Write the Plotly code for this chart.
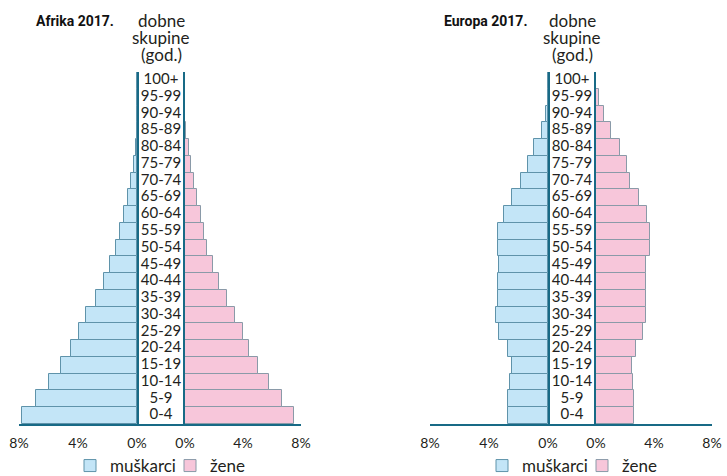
import plotly.graph_objects as go

ages = ["0-4", "5-9", "10-14", "15-19", "20-24", "25-29", "30-34", "35-39", "40-44",
        "45-49", "50-54", "55-59", "60-64", "65-69", "70-74", "75-79", "80-84",
        "85-89", "90-94", "95-99", "100+"]

africa_male = [7.78, 6.83, 5.94, 5.15, 4.47, 3.95, 3.44, 2.78, 2.26, 1.81, 1.45, 1.18,
               0.90, 0.63, 0.41, 0.23, 0.10, 0.03, 0.01, 0.0, 0.0]
africa_female = [7.54, 6.69, 5.82, 5.01, 4.44, 4.02, 3.47, 2.90, 2.34, 1.91, 1.54, 1.33,
                 1.12, 0.85, 0.60, 0.39, 0.25, 0.07, 0.02, 0.0, 0.0]
europe_male = [2.70, 2.74, 2.61, 2.47, 2.74, 3.33, 3.53, 3.42, 3.42, 3.35, 3.42, 3.38,
               2.95, 2.43, 1.80, 1.39, 0.97, 0.43, 0.14, 0.03, 0.0]
europe_female = [2.62, 2.62, 2.55, 2.48, 2.76, 3.24, 3.47, 3.47, 3.47, 3.47, 3.70, 3.70,
                 3.50, 2.99, 2.34, 2.14, 1.66, 1.03, 0.55, 0.23, 0.03]

tick_vals = [0, 4, 8]
tick_text = ["0%", "4%", "8%"]
legend_names = ["muškarci", "žene"]
titles = ["Afrika 2017.", "Europa 2017."]
age_title_lines = ["dobne", "skupine", "(god.)"]

W, H = 727, 476
TEAL = "#186a86"
TXT = "#231f20"
M_FILL, M_EDGE = "#c3e5f7", "#5f93aa"
F_FILL, F_EDGE = "#f7c6da", "#8a9aa8"
FONT = "Lato"

fig = go.Figure()

def bar(vals, name, fill, edge, xa, ya, legend):
    return go.Bar(x=vals, y=ages, orientation="h", name=name,
                  marker=dict(color=fill, line=dict(color=edge, width=1)),
                  xaxis=xa, yaxis=ya, legend=legend, hoverinfo="x+y")

fig.add_trace(bar(africa_male, legend_names[0], M_FILL, M_EDGE, "x", "y", "legend"))
fig.add_trace(bar(africa_female, legend_names[1], F_FILL, F_EDGE, "x2", "y2", "legend"))
fig.add_trace(bar(europe_male, legend_names[0], M_FILL, M_EDGE, "x3", "y3", "legend2"))
fig.add_trace(bar(europe_female, legend_names[1], F_FILL, F_EDGE, "x4", "y4", "legend2"))

for xa, ya in (("x5", "y"), ("x6", "y3")):
    fig.add_trace(go.Scatter(x=[0.5] * len(ages), y=ages, text=ages, mode="text",
                             textfont=dict(family=FONT, size=15, color=TXT),
                             xaxis=xa, yaxis=ya, showlegend=False, hoverinfo="skip",
                             cliponaxis=False))

ydom = [1 - 424 / H, 1 - 72 / H]

def xaxis(d0, d1, rng, ticks=True):
    a = dict(domain=[d0 / W, d1 / W], range=rng, showgrid=False, zeroline=False,
             showline=True, linecolor=TEAL, linewidth=2, fixedrange=True, automargin=False)
    if ticks:
        a.update(tickvals=tick_vals, ticktext=tick_text, ticks="outside", ticklen=5,
                 tickcolor="rgba(0,0,0,0)",
                 tickfont=dict(family=FONT, size=14, color=TXT))
    else:
        a.update(showticklabels=False, ticks="")
    return a

def yaxis(anchor, side, match=None):
    a = dict(domain=ydom, anchor=anchor, side=side, type="category",
             categoryorder="array", categoryarray=ages, range=[-0.5, len(ages) - 0.5],
             showline=True, linecolor=TEAL, linewidth=2, showgrid=False,
             zeroline=False, showticklabels=False, ticks="", fixedrange=True, automargin=False)
    if match:
        a["matches"] = match
    return a

def legend(x0):
    return dict(orientation="h", x=x0 / W, y=1 - 466 / H, xanchor="left", yanchor="middle",
                font=dict(family=FONT, size=17, color=TXT), bgcolor="rgba(0,0,0,0)",
                entrywidth=55, entrywidthmode="pixels",
                itemclick=False, itemdoubleclick=False)

fig.update_layout(
    width=W, height=H, margin=dict(l=0, r=0, t=0, b=0, autoexpand=False),
    paper_bgcolor="white", plot_bgcolor="rgba(0,0,0,0)",
    bargap=0, barmode="overlay",
    font=dict(family=FONT, color=TXT),
    xaxis=xaxis(19, 137, [8, 0]),
    xaxis2=xaxis(185, 301, [0, 8]),
    xaxis3=xaxis(430, 548, [8, 0]),
    xaxis4=xaxis(596, 712, [0, 8]),
    xaxis5=xaxis(137, 185, [0, 1], ticks=False),
    xaxis6=xaxis(548, 596, [0, 1], ticks=False),
    yaxis=yaxis("x", "right"),
    yaxis2=yaxis("x2", "left", "y"),
    yaxis3=yaxis("x3", "right"),
    yaxis4=yaxis("x4", "left", "y3"),
    legend=legend(70),
    legend2=legend(482),
    showlegend=True,
)

for tx, cx, lx in ((titles[0], 161, 34), (titles[1], 572, 442)):
    fig.add_annotation(text="<b>" + tx + "</b>", x=lx / W, y=1 - 21 / H, xref="paper", yref="paper",
                       xanchor="left", yanchor="middle", showarrow=False,
                       font=dict(family="Roboto", size=14, color="#111111"))
    for line, ly in zip(age_title_lines, (21, 37.5, 54)):
        fig.add_annotation(text=line, x=cx / W, y=1 - ly / H, xref="paper", yref="paper",
                           xanchor="center", yanchor="middle", showarrow=False,
                           font=dict(family=FONT, size=17, color=TXT))

fig.write_html("out.html", config={"displayModeBar": False},
               post_script="document.body.style.margin='0';document.body.style.overflow='hidden';")
